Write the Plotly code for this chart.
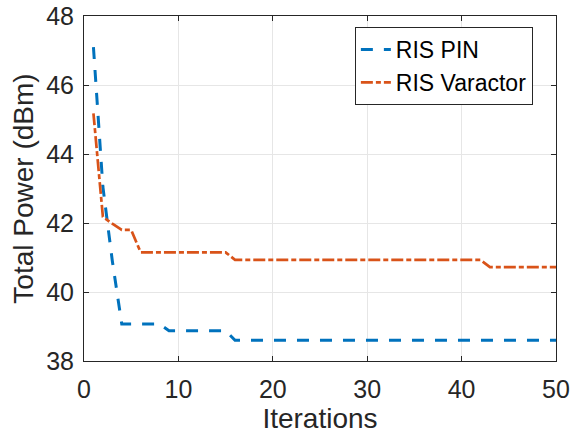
import plotly.graph_objects as go

iterations = list(range(1, 51))
ris_pin = [47.1, 43.05, 40.9, 39.07, 39.07, 39.07, 39.07, 39.07,
           38.88, 38.88, 38.88, 38.88, 38.88, 38.88, 38.88] + [38.6] * 35
ris_varactor = [45.18, 42.18, 41.98, 41.8, 41.8] + [41.15] * 10 + [40.93] * 27 + [40.72] * 8

x_ticks = [0, 10, 20, 30, 40, 50]
y_ticks = [38, 40, 42, 44, 46, 48]

FONT = "Liberation Sans, Arial, sans-serif"
AX = "#262626"

fig = go.Figure()
fig.add_trace(go.Scatter(x=iterations, y=ris_pin, mode="lines", name="RIS PIN",
                         line=dict(color="#0072BD", width=3, dash="12px,11px")))
fig.add_trace(go.Scatter(x=iterations, y=ris_varactor, mode="lines", name="RIS Varactor",
                         line=dict(color="#D95319", width=2.7, dash="12px,3px,5px,3px")))

axis_common = dict(showgrid=True, gridcolor="#e6e6e6", gridwidth=1,
                   showline=True, linecolor=AX, linewidth=1, mirror="ticks",
                   ticks="inside", ticklen=5, tickcolor=AX, zeroline=False,
                   automargin=False,
                   tickfont=dict(family=FONT, size=25, color=AX))

fig.update_xaxes(range=[0, 50], tickvals=x_ticks,
                 title=dict(text="Iterations", font=dict(family=FONT, size=28, color=AX), standoff=4),
                 ticklabelstandoff=6, **axis_common)
fig.update_yaxes(range=[38, 48], tickvals=y_ticks,
                 title=dict(text="Total Power (dBm)", font=dict(family=FONT, size=28, color=AX), standoff=4),
                 ticklabelstandoff=4, **axis_common)

fig.update_layout(
    width=571, height=434,
    margin=dict(l=84, r=15, t=16, b=73),
    plot_bgcolor="white", paper_bgcolor="white",
    font=dict(family=FONT, color=AX),
    legend=dict(x=0.951, y=0.968, xanchor="right", yanchor="top",
                bgcolor="white", bordercolor=AX, borderwidth=1,
                font=dict(family=FONT, size=23, color="black"),
                tracegroupgap=0),
)

fig.write_html("out.html")
